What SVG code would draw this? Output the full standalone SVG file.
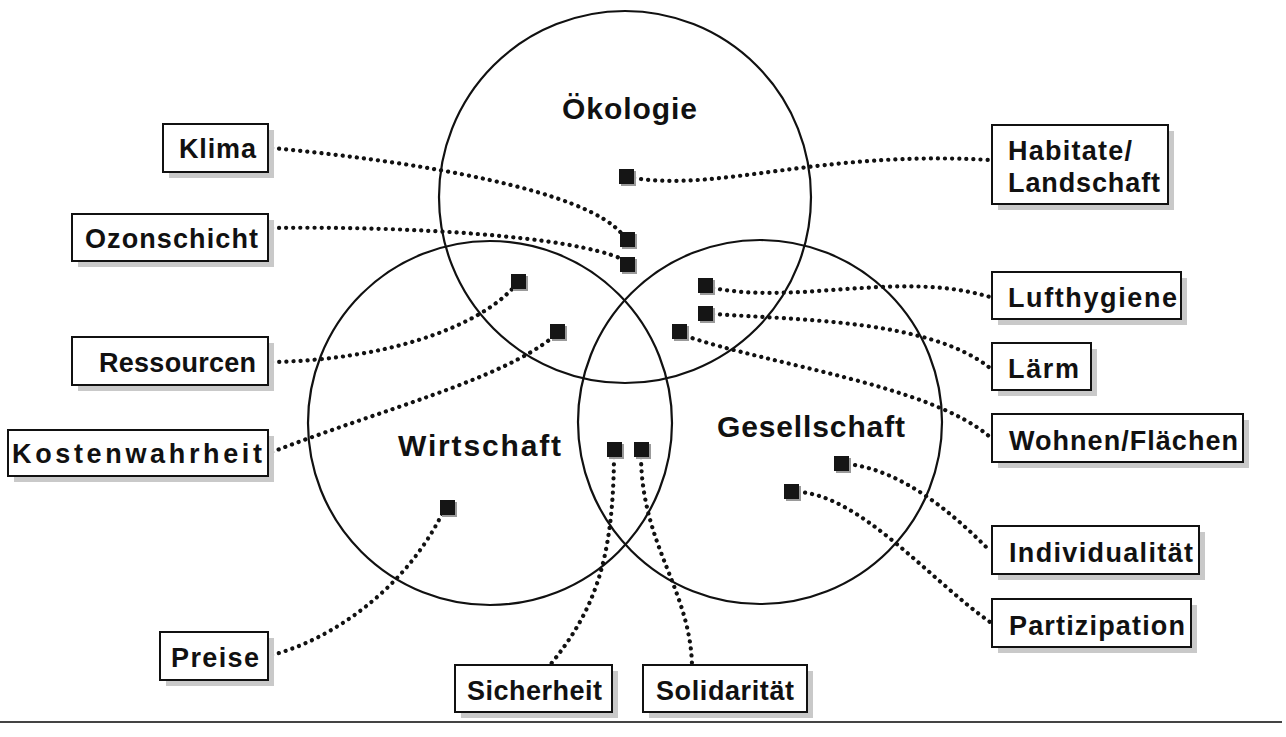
<svg xmlns="http://www.w3.org/2000/svg" width="1286" height="737" viewBox="0 0 1286 737">
<style>
.c{fill:none;stroke:#111;stroke-width:2.2}
.sh{fill:#c9c9c9}
.bx{fill:#fff;stroke:#111;stroke-width:2}
.t{font-family:"Liberation Sans",Arial,sans-serif;font-weight:bold;font-size:27px;fill:#111}
.h{font-family:"Liberation Sans",Arial,sans-serif;font-weight:bold;font-size:30px;fill:#111}
.sq{fill:#151515}
.sqs{fill:#9a9a9a}
.d{fill:none;stroke:#111;stroke-width:4.2;stroke-linecap:round;stroke-dasharray:0.1 7}
</style>
<rect width="1286" height="737" fill="#fff"/>
<g id="circles">
<circle class="c" cx="625" cy="197" r="186"/>
<circle class="c" cx="490" cy="423" r="182"/>
<circle class="c" cx="760" cy="422" r="182"/>
<text class="h" x="562" y="119" textLength="135">Ökologie</text>
<text class="h" x="398" y="456" textLength="163">Wirtschaft</text>
<text class="h" x="717" y="437" textLength="188">Gesellschaft</text>
</g>
<g id="connectors">
<path class="d" d="M272,148 C420,162 585,190 622,234"/>
<path class="d" d="M272,228 C410,226 570,236 622,259"/>
<path class="d" d="M634,178 C720,192 820,150 990,160"/>
<path class="d" d="M272,362 C380,360 475,330 514,287"/>
<path class="d" d="M272,452 C380,410 500,380 553,337"/>
<path class="d" d="M272,655 C330,640 405,590 443,512"/>
<path class="d" d="M614,457 C613,560 595,610 550,665"/>
<path class="d" d="M641,457 C642,545 690,590 692,665"/>
<path class="d" d="M713,288 C800,305 900,270 990,297"/>
<path class="d" d="M713,314 C800,320 930,320 990,368"/>
<path class="d" d="M686,336 C770,365 930,385 990,437"/>
<path class="d" d="M848,464 C900,470 950,510 990,551"/>
<path class="d" d="M798,492 C860,495 930,580 990,622"/>
</g>
<g id="squares">
<rect class="sqs" x="621" y="171" width="15" height="15"/><rect class="sq" x="619" y="169" width="15" height="15"/>
<rect class="sqs" x="622" y="234" width="15" height="15"/><rect class="sq" x="620" y="232" width="15" height="15"/>
<rect class="sqs" x="622" y="259" width="15" height="15"/><rect class="sq" x="620" y="257" width="15" height="15"/>
<rect class="sqs" x="513" y="276" width="15" height="15"/><rect class="sq" x="511" y="274" width="15" height="15"/>
<rect class="sqs" x="552" y="326" width="15" height="15"/><rect class="sq" x="550" y="324" width="15" height="15"/>
<rect class="sqs" x="700" y="280" width="15" height="15"/><rect class="sq" x="698" y="278" width="15" height="15"/>
<rect class="sqs" x="700" y="308" width="15" height="15"/><rect class="sq" x="698" y="306" width="15" height="15"/>
<rect class="sqs" x="674" y="326" width="15" height="15"/><rect class="sq" x="672" y="324" width="15" height="15"/>
<rect class="sqs" x="609" y="444" width="15" height="15"/><rect class="sq" x="607" y="442" width="15" height="15"/>
<rect class="sqs" x="636" y="444" width="15" height="15"/><rect class="sq" x="634" y="442" width="15" height="15"/>
<rect class="sqs" x="836" y="458" width="15" height="15"/><rect class="sq" x="834" y="456" width="15" height="15"/>
<rect class="sqs" x="786" y="486" width="15" height="15"/><rect class="sq" x="784" y="484" width="15" height="15"/>
<rect class="sqs" x="442" y="502" width="15" height="15"/><rect class="sq" x="440" y="500" width="15" height="15"/>
</g>
<g id="klima"><rect class="sh" x="169" y="130" width="105" height="48"/><rect class="bx" x="163" y="124" width="105" height="48"/><text class="t" x="256" y="158" text-anchor="end" textLength="77">Klima</text></g>
<g id="ozonschicht"><rect class="sh" x="78" y="220" width="196" height="47"/><rect class="bx" x="72" y="214" width="196" height="47"/><text class="t" x="258" y="248" text-anchor="end" textLength="173">Ozonschicht</text></g>
<g id="ressourcen"><rect class="sh" x="78" y="343" width="196" height="48"/><rect class="bx" x="72" y="337" width="196" height="48"/><text class="t" x="256" y="372" text-anchor="end" textLength="157">Ressourcen</text></g>
<g id="kostenwahrheit"><rect class="sh" x="14" y="436" width="260" height="46"/><rect class="bx" x="8" y="430" width="260" height="46"/><text class="t" x="262" y="463" text-anchor="end" textLength="250">Kostenwahrheit</text></g>
<g id="preise"><rect class="sh" x="166" y="638" width="108" height="48"/><rect class="bx" x="160" y="632" width="108" height="48"/><text class="t" x="259" y="667" text-anchor="end" textLength="88">Preise</text></g>
<g id="sicherheit"><rect class="sh" x="461" y="671" width="157" height="47"/><rect class="bx" x="455" y="665" width="157" height="47"/><text class="t" x="467" y="700" textLength="135">Sicherheit</text></g>
<g id="solidaritaet"><rect class="sh" x="649" y="671" width="164" height="47"/><rect class="bx" x="643" y="665" width="164" height="47"/><text class="t" x="656" y="700" textLength="138">Solidarität</text></g>
<g id="habitate"><rect class="sh" x="998" y="131" width="176" height="79"/><rect class="bx" x="992" y="125" width="176" height="79"/><text class="t" x="1008" y="160" textLength="124">Habitate/</text><text class="t" x="1008" y="192" textLength="152">Landschaft</text></g>
<g id="lufthygiene"><rect class="sh" x="998" y="278" width="189" height="47"/><rect class="bx" x="992" y="272" width="189" height="47"/><text class="t" x="1008" y="307" textLength="169">Lufthygiene</text></g>
<g id="laerm"><rect class="sh" x="998" y="349" width="99" height="47"/><rect class="bx" x="992" y="343" width="99" height="47"/><text class="t" x="1008" y="378" textLength="71">Lärm</text></g>
<g id="wohnen"><rect class="sh" x="998" y="420" width="251" height="48"/><rect class="bx" x="992" y="414" width="251" height="48"/><text class="t" x="1009" y="450" textLength="229">Wohnen/Flächen</text></g>
<g id="individualitaet"><rect class="sh" x="998" y="532" width="207" height="48"/><rect class="bx" x="992" y="526" width="207" height="48"/><text class="t" x="1009" y="562" textLength="184">Individualität</text></g>
<g id="partizipation"><rect class="sh" x="998" y="605" width="199" height="48"/><rect class="bx" x="992" y="599" width="199" height="48"/><text class="t" x="1009" y="635" textLength="176">Partizipation</text></g>
<line x1="0" y1="722" x2="1282" y2="722" stroke="#444" stroke-width="2"/>
</svg>
